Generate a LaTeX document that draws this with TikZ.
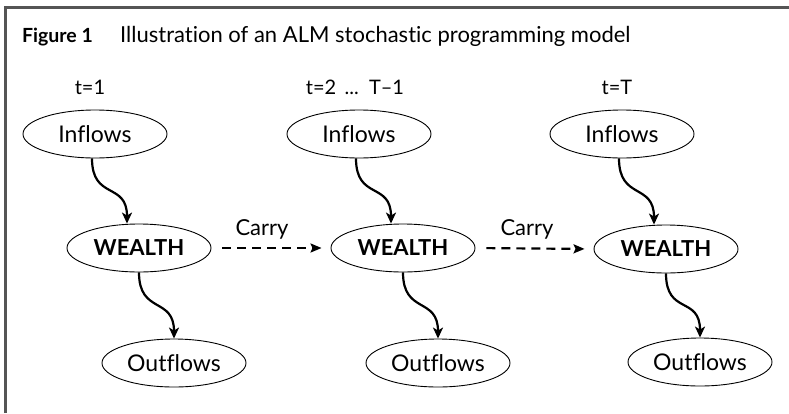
\documentclass[tikz,border=0pt]{standalone}
\usepackage{fontspec}
\setmainfont{Lato}[Ligatures=NoCommon]
\usetikzlibrary{arrows.meta,shapes.geometric}
\definecolor{framegrey}{HTML}{555555}

\begin{document}
\begin{tikzpicture}[x=1pt,y=-1pt,
  stage/.style={draw,ellipse,line width=0.9pt,minimum width=144pt,
    minimum height=48pt,inner sep=0pt,font=\fontsize{23}{26}\selectfont},
  wealth/.style={stage,font=\fontsize{22}{25}\selectfont\bfseries},
  period/.style={font=\fontsize{20}{23}\selectfont,inner sep=0pt},
  flow/.style={line width=2.2pt,-{Stealth[length=11pt,width=10pt,inset=3pt]}},
  carry/.style={line width=2.2pt,dash pattern=on 9pt off 6pt,
    -{Stealth[length=11pt,width=9pt,inset=2pt]},shorten <=11pt,shorten >=9pt},
  carrylabel/.style={font=\fontsize{22}{25}\selectfont,inner sep=0pt},
  title/.style={font=\fontsize{22}{25}\selectfont,inner sep=0pt,anchor=base west}]
\useasboundingbox (0,0) rectangle (789,413);
\fill[white] (0,0) rectangle (789,413);

% frame on top and left
\draw[framegrey,line width=2.5pt] (5.5,413) -- (5.5,7.5) -- (789,7.5);

% caption
\node[title,font=\fontsize{19.5}{22}\selectfont\bfseries] (fig) at (22,42) {Figure 1};
\node[title] (cap) at (120,42) {Illustration of an ALM stochastic programming model};

% period labels
\node[period] (t1) at (90,87) {t=1};
\node[period] (t2) at (355,87) {t=2 \,...\, T–1};
\node[period] (t3) at (617,87) {t=T};

% stages
\node[stage]  (in1) at (95,134)  {Inflows};
\node[wealth] (w1)  at (139,248) {WEALTH};
\node[stage]  (out1) at (174,363) {Outflows};

\node[stage]  (in2) at (359,134) {Inflows};
\node[wealth] (w2)  at (403,248) {WEALTH};
\node[stage]  (out2) at (438,363) {Outflows};

\node[stage]  (in3) at (622,134) {Inflows};
\node[wealth] (w3)  at (666,249) {WEALTH};
\node[stage]  (out3) at (700,362) {Outflows};

% flows into and out of wealth
\foreach \i in {1,2,3}{
  \draw[flow] ([xshift=-3pt]in\i.south) .. controls +(0,42) and +(0,-42) .. ([xshift=-12pt]w\i.north);
  \draw[flow] (w\i.south) .. controls +(0,42) and +(0,-42) .. (out\i.north);
}

% carry-over between periods
\draw[carry] (w1.east) -- (w2.west);
\draw[carry] (w2.east) -- (w3.west);
\node[carrylabel] (c1) at (262,229) {Carry};
\node[carrylabel] (c2) at (527,229) {Carry};
\end{tikzpicture}
\end{document}
